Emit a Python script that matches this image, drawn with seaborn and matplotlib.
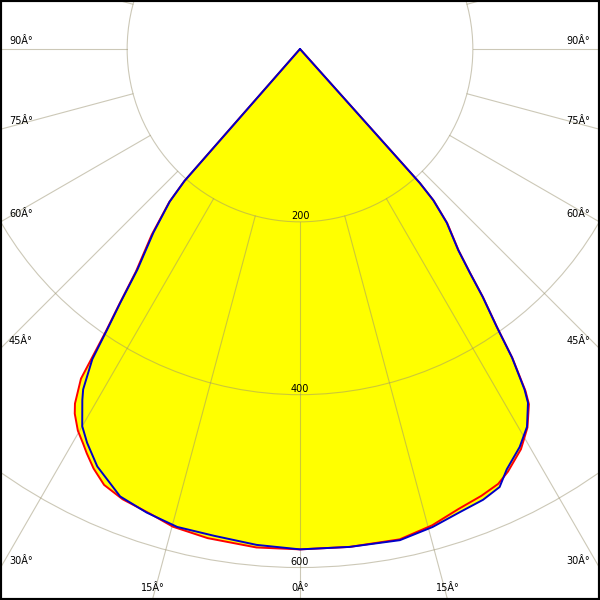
import numpy as np
import matplotlib
matplotlib.use('Agg')
import matplotlib.pyplot as plt
from matplotlib.patches import Circle, Rectangle
import seaborn as sns

# luminous intensity (cd) against angle from nadir
# blue curve
blue_left_ang = [0, 5, 10, 14.4, 18.3, 21.9, 25.9, 28.4, 30, 31.8, 32.5, 33.8,
                 34.5, 35.3, 36.4, 38.6, 40.5, 41.2, 41.3]
blue_left_cd = [579, 576, 572, 571, 565, 558, 537, 518, 504, 478, 467, 432,
                394, 360, 317, 272, 232, 203, 0]
blue_right_ang = [0, 5.7, 11.5, 15.5, 19.0, 22.1, 24.5, 26.2, 28.9, 31.0, 32.8,
                  33.4, 34.5, 35.3, 36.4, 37.2, 38.2, 40.2, 41.4, 41.8, 42.0]
blue_right_cd = [579, 579, 580, 574, 567, 563, 557, 542, 526, 510, 487,
                 472, 433, 394, 356, 325, 296, 263, 233, 208, 0]

# red curve
red_left_ang = [0, 5, 10.7, 14.9, 17.9, 21.5, 24.2, 26.2, 27.8, 28.8, 30.2, 31.7,
                32.4, 33.6, 34.5, 35.3, 36.4, 38.6, 40.5, 41.2, 41.3]
red_left_cd = [579, 579, 576, 572, 565, 560, 553, 541, 529, 521, 511, 496,
               486, 458, 397, 362, 320, 275, 233, 203, 0]
red_right_ang = [0, 5.7, 11.5, 15.5, 19.0, 22.1, 24.5, 26.2, 28.9, 31.0, 32.8,
                 33.4, 34.5, 35.3, 36.4, 37.2, 38.2, 40.2, 41.4, 41.8, 42.0]
red_right_cd = [579, 579, 579, 572, 563, 558, 553, 545, 529, 511, 489,
                474, 434, 395, 357, 326, 297, 264, 234, 208, 0]

ring_values = [200, 400, 600]
spoke_angles = list(range(0, 360, 15))
label_angles = [0, 15, 30, 45, 60, 75, 90]

PX = 0.8642           # pixels per cd
CX, CY = 300, 49      # pole position in pixels (from top-left)
W = H = 600


def to_xy(ang, val, side):
  th = np.radians(ang)
  v = np.asarray(val, dtype=float)
  return side * v * np.sin(th), -v * np.cos(th)


def closed_curve(l_ang, l_cd, r_ang, r_cd):
  lx, ly = to_xy(l_ang, l_cd, -1)
  rx, ry = to_xy(r_ang, r_cd, 1)
  x = np.concatenate([lx[::-1], rx])
  y = np.concatenate([ly[::-1], ry])
  return x, y


sns.set_style('white')
plt.rcParams['font.family'] = ['DejaVu Sans']

fig = plt.figure(figsize=(6, 6), dpi=100)
ax = fig.add_axes([0, 0, 1, 1])
xmin, xmax = -CX / PX, (W - CX) / PX
ymin, ymax = -(H - CY) / PX, CY / PX
ax.set_xlim(xmin, xmax)
ax.set_ylim(ymin, ymax)
ax.axis('off')

bx, by = closed_curve(blue_left_ang, blue_left_cd, blue_right_ang, blue_right_cd)
rx, ry = closed_curve(red_left_ang, red_left_cd, red_right_ang, red_right_cd)

# Fill
ax.fill(rx, ry, color='#ffff00', lw=0, zorder=1)
ax.fill(bx, by, color='#ffff00', lw=0, zorder=1)

# Grid
grid_kw = dict(color='#9a9270', alpha=0.5, lw=0.8, zorder=2)
for r in ring_values:
  ax.add_patch(Circle((0, 0), r, fill=False, ec='#9a9270', alpha=0.5,
                      lw=0.8, zorder=2))
for a in spoke_angles:
  sx, sy = to_xy([a, a], [200, 900], 1)
  ax.plot(sx, sy, **grid_kw)

# Curves
sns.lineplot(x=rx, y=ry, sort=False, estimator=None, color='#ff0000', lw=1.4,
             ax=ax, zorder=3)
sns.lineplot(x=bx, y=by, sort=False, estimator=None, color='#0000c8', lw=1.4,
             ax=ax, zorder=4)

# Ring labels
for r in ring_values:
  ax.annotate(str(r), xy=(0, -r), xytext=(0, 1), textcoords='offset pixels',
              ha='center', va='bottom', fontsize=7, color='black', zorder=5)

# Angle labels where the spokes leave the frame
for a in label_angles:
  th = np.radians(a)
  for side in ([1] if a == 0 else [-1, 1]):
    t_side = xmax / np.sin(th) if a > 0 else np.inf
    t_bot = -ymin / np.cos(th) if a < 90 else np.inf
    txt = f'{a}Â°'
    if t_side < t_bot:
      ye = -t_side * np.cos(th)
      if side < 0:
        ax.annotate(txt, xy=(xmin, ye), xytext=(9, 8), textcoords='offset pixels',
                    ha='left', va='center', fontsize=7, color='black', zorder=5)
      else:
        ax.annotate(txt, xy=(xmax, ye), xytext=(-10, 8), textcoords='offset pixels',
                    ha='right', va='center', fontsize=7, color='black', zorder=5)
    else:
      xe = side * t_bot * np.sin(th)
      ax.annotate(txt, xy=(xe, ymin), xytext=(0, 12), textcoords='offset pixels',
                  ha='center', va='center', fontsize=7, color='black', zorder=5)

fig.patches.append(Rectangle((0, 0), 1, 1, transform=fig.transFigure, fill=False,
                             ec='black', lw=3, zorder=10))

fig.savefig('out.png', dpi=100)
